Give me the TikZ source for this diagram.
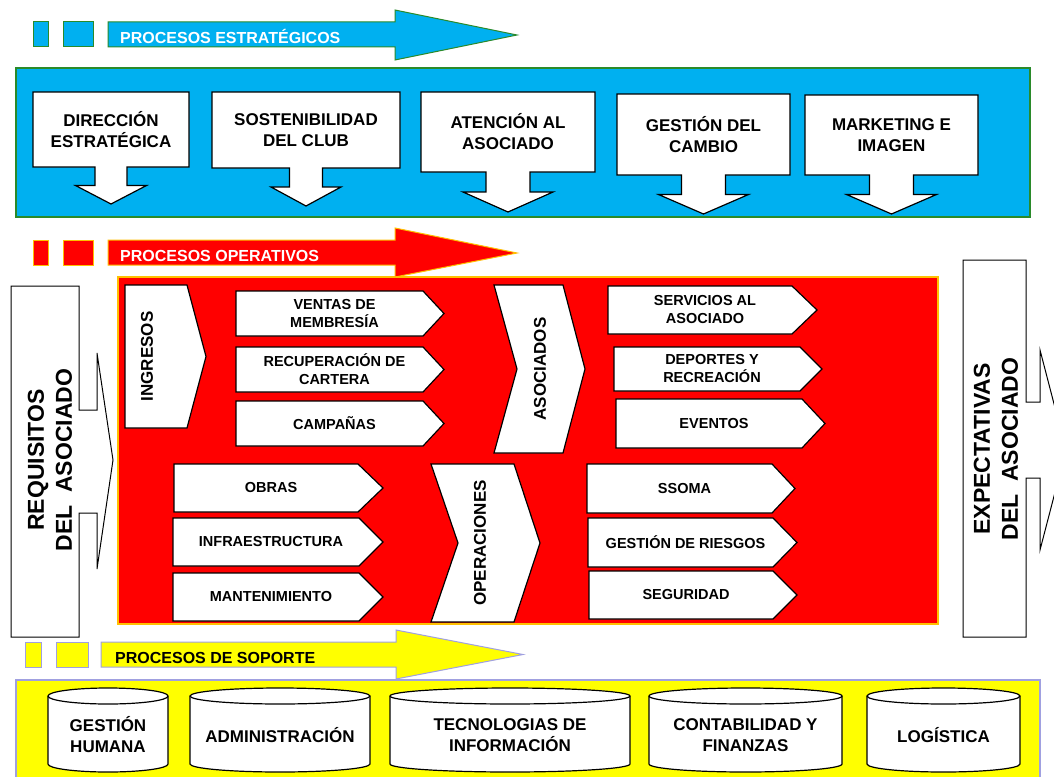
\documentclass[tikz,border=0pt]{standalone}
\usepackage{fontspec}
\setmainfont{Liberation Sans}

\definecolor{estrBlue}{HTML}{00B0F0}
\definecolor{estrGreen}{HTML}{2A8A2A}
\definecolor{operRed}{HTML}{FF0000}
\definecolor{operOrange}{HTML}{FFC000}
\definecolor{soporteYellow}{HTML}{FFFF00}
\definecolor{soporteLilac}{HTML}{A0A0E0}

\def \boxLine {1.2pt}
\def \cylSide {696}
\def \cylBase {764}

\tikzset{
  procbox/.style={draw=black, fill=white, line width=\boxLine},
  toplabel/.style={font=\bfseries\fontsize{17}{21}\selectfont, align=center},
  tablabel/.style={font=\bfseries\fontsize{14.5}{18}\selectfont, align=center},
  biglabel/.style={font=\bfseries\fontsize{17}{21}\selectfont, rotate=90},
  sidelabel/.style={font=\bfseries\fontsize{23}{28}\selectfont, align=center, rotate=90},
  cyllabel/.style={font=\bfseries\fontsize{17}{21}\selectfont, align=center},
  bannerlabel/.style={font=\bfseries\fontsize{16}{19}\selectfont, anchor=base west, inner sep=0pt},
}

% box with a down arrow: name, x1, y1, x2, y2, half stem, half head, tip y, text
\newcommand{\proccallout}[9]{%
  \draw[procbox] (#2,#3) -- (#4,#3) -- (#4,#5)
    -- ({(#2+#4)/2+#6},#5) -- ({(#2+#4)/2+#6},{(#5+#8)/2})
    -- ({(#2+#4)/2+#7},{(#5+#8)/2}) -- ({(#2+#4)/2},#8)
    -- ({(#2+#4)/2-#7},{(#5+#8)/2}) -- ({(#2+#4)/2-#6},{(#5+#8)/2})
    -- ({(#2+#4)/2-#6},#5) -- (#2,#5) -- cycle;
  \node[toplabel] (#1) at ({(#2+#4)/2},{(#3+#5)/2}) {#9};
}

% tab pointing right: name, x1, y1, x2, y2, tip x, text
\newcommand{\proctab}[7]{%
  \draw[procbox] (#2,#3) -- (#4,#3) -- (#6,{(#3+#5)/2}) -- (#4,#5) -- (#2,#5) -- cycle;
  \node[tablabel] (#1) at ({(#2+#4)/2+5},{(#3+#5)/2}) {#7};
}

% chevron with vertical text: name, x1, y1, x2, y2, tip x, notch x, text x, text
\newcommand{\procchevron}[9]{%
  \draw[procbox] (#2,#3) -- (#4,#3) -- (#6,{(#3+#5)/2}) -- (#4,#5) -- (#2,#5) -- (#7,{(#3+#5)/2}) -- cycle;
  \node[biglabel] (#1) at (#8,{(#3+#5)/2}) {#9};
}

% cylinder: name, x1, x2, text
\newcommand{\proccyl}[4]{%
  \pgfmathsetmacro\cylrx{(#3-#2)/2}
  \draw[procbox] (#2,\cylSide) -- (#2,\cylBase)
    arc[start angle=180, end angle=360, x radius=\cylrx pt, y radius=8pt]
    -- (#3,\cylSide)
    arc[start angle=0, end angle=180, x radius=\cylrx pt, y radius=8pt] -- cycle;
  \draw[line width=\boxLine] (#2,\cylSide)
    arc[start angle=180, end angle=360, x radius=\cylrx pt, y radius=8pt];
  \node[cyllabel] (#1) at ({(#2+#3)/2},735) {#4};
}

\begin{document}
\begin{tikzpicture}[x=1pt, y=-1pt]
  \useasboundingbox (0,0) rectangle (1054,776);
  \clip (0,0) rectangle (1054,776);
  \fill[white] (0,0) rectangle (1054,776);

  % panels
  \draw[fill=estrBlue, draw=estrGreen, line width=1.5pt] (16,68) rectangle (1030,217);
  \draw[fill=operRed, draw=operOrange, line width=1.5pt] (118,277) rectangle (938,624);
  \draw[fill=soporteYellow, draw=soporteLilac, line width=1.5pt] (16,680) rectangle (1040,790);

  % strategic banner
  \draw[fill=estrBlue, draw=estrGreen, line width=1pt] (33,22) rectangle (48,47);
  \draw[fill=estrBlue, draw=estrGreen, line width=1pt] (63,22) rectangle (93,47);
  \draw[fill=estrBlue, draw=estrGreen, line width=1pt] (108,22) -- (395,22) -- (395,10)
    -- (517,35) -- (395,60) -- (395,47) -- (108,47) -- cycle;
  \node[bannerlabel, text=white] (estrLabel) at (120,44) {PROCESOS ESTRATÉGICOS};

  % operative banner
  \draw[fill=operRed, draw=operOrange, line width=1pt] (33,240) rectangle (48,265);
  \draw[fill=operRed, draw=operOrange, line width=1pt] (63,240) rectangle (93,265);
  \draw[fill=operRed, draw=operOrange, line width=1pt] (108,240) -- (395,240) -- (395,228)
    -- (517,253) -- (395,277) -- (395,265) -- (108,265) -- cycle;
  \node[bannerlabel, text=white] (operLabel) at (120,261) {PROCESOS OPERATIVOS};

  % support banner
  \draw[fill=soporteYellow, draw=soporteLilac, line width=1pt] (25,642) rectangle (41,667);
  \draw[fill=soporteYellow, draw=soporteLilac, line width=1pt] (56,642) rectangle (88,667);
  \draw[fill=soporteYellow, draw=soporteLilac, line width=1pt] (101,642) -- (396,642) -- (396,630)
    -- (523,654.5) -- (396,679) -- (396,667) -- (101,667) -- cycle;
  \node[bannerlabel, text=black] (soporteLabel) at (115,663) {PROCESOS DE SOPORTE};

  % strategic processes
  \proccallout{direccion}{33}{92}{189}{167}{16}{35.5}{204}{DIRECCIÓN\\ESTRATÉGICA}
  \proccallout{sostenibilidad}{212}{92}{400}{168}{16.5}{35}{206}{SOSTENIBILIDAD\\DEL CLUB}
  \proccallout{atencion}{421}{92}{595}{172}{22}{45}{212}{ATENCIÓN AL\\ASOCIADO}
  \proccallout{cambio}{617}{94}{790}{175}{22}{45}{214}{GESTIÓN DEL\\CAMBIO}
  \proccallout{marketing}{805}{95}{978}{175}{22}{45}{214}{MARKETING E\\IMAGEN}

  % customer requirements and expectations
  \draw[procbox, line width=1pt] (11,286) -- (79,286) -- (79,410) -- (97,410) -- (97,353)
    -- (113,460) -- (97,569) -- (97,513) -- (79,513) -- (79,637) -- (11,637) -- cycle;
  \node[sidelabel] (requisitos) at (50,460) {REQUISITOS\\DEL\ \ ASOCIADO};
  \draw[procbox, line width=1pt] (963,260) -- (1026,260) -- (1026,402) -- (1040,402) -- (1040,350)
    -- (1066,450) -- (1040,550) -- (1040,478) -- (1026,478) -- (1026,637) -- (963,637) -- cycle;
  \node[sidelabel] (expectativas) at (996,449) {EXPECTATIVAS\\DEL\ \ ASOCIADO};

  % operative processes
  \procchevron{ingresos}{125}{285}{187}{428}{206}{125}{147}{INGRESOS}
  \proctab{ventas}{236}{291}{423}{336}{444}{VENTAS DE\\MEMBRESÍA}
  \proctab{cartera}{236}{347}{423}{392}{444}{RECUPERACIÓN DE\\CARTERA}
  \proctab{campanas}{236}{401}{423}{446}{444}{CAMPAÑAS}
  \procchevron{asociados}{494}{285}{563}{453}{585}{517}{540}{ASOCIADOS}
  \proctab{servicios}{608}{286}{792}{334}{817}{SERVICIOS AL\\ASOCIADO}
  \proctab{deportes}{614}{347}{800}{391}{822}{DEPORTES Y\\RECREACIÓN}
  \proctab{eventos}{616}{399}{802}{448}{825}{EVENTOS}
  \proctab{obras}{174}{464}{358}{512}{383}{OBRAS}
  \proctab{infra}{173}{518}{359}{566}{383}{INFRAESTRUCTURA}
  \proctab{mantenimiento}{173}{573}{359}{621}{383}{MANTENIMIENTO}
  \procchevron{operaciones}{431}{464}{514}{622}{540}{458}{480}{OPERACIONES}
  \proctab{ssoma}{587}{464}{772}{513}{795}{SSOMA}
  \proctab{riesgos}{588}{518}{773}{567}{797}{GESTIÓN DE RIESGOS}
  \proctab{seguridad}{589}{571}{773}{619}{797}{SEGURIDAD}

  % support processes
  \proccyl{humana}{48}{168}{GESTIÓN\\HUMANA}
  \proccyl{administracion}{190}{370}{ADMINISTRACIÓN}
  \proccyl{tecnologias}{390}{630}{TECNOLOGIAS DE\\INFORMACIÓN}
  \proccyl{contabilidad}{649}{842}{CONTABILIDAD Y\\FINANZAS}
  \proccyl{logistica}{867}{1020}{LOGÍSTICA}
\end{tikzpicture}
\end{document}
